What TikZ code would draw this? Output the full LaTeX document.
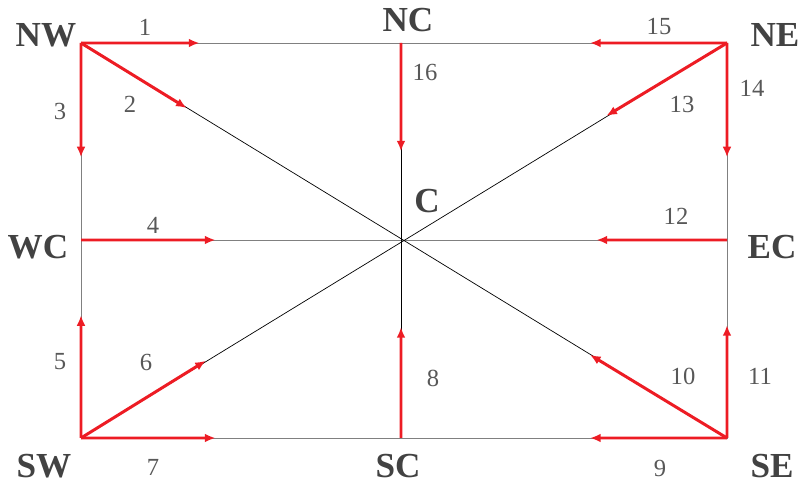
\documentclass[tikz,border=0pt]{standalone}
\usepackage{fontspec}
\setmainfont{Liberation Serif}
\usepackage{xcolor}
\usetikzlibrary{arrows.meta}
\usetikzlibrary{calc}
\definecolor{flowred}{RGB}{237,28,36}
\definecolor{labelgray}{RGB}{66,66,66}
\definecolor{numgray}{RGB}{88,88,88}

\begin{document}
\begin{tikzpicture}[x=0.02cm,y=-0.02cm,
  flow/.style={-{Latex[length=6pt,width=5pt]},line width=1.7pt,flowred},
  edge/.style={line width=0.5pt,gray},
  diag/.style={line width=0.4pt,black},
  place/.style={text=labelgray,font=\fontsize{20}{24}\selectfont\bfseries},
  num/.style={text=numgray,font=\fontsize{14}{16}\selectfont}]
\useasboundingbox (0,0) rectangle (799,486);

\coordinate (NW) at (81,43);
\coordinate (NC) at (401,43);
\coordinate (NE) at (727,43);
\coordinate (WC) at (81,240);
\coordinate (C) at (401,240);
\coordinate (EC) at (727,240);
\coordinate (SW) at (81,438);
\coordinate (SC) at (401,438);
\coordinate (SE) at (727,438);

%grid lines
\draw[edge] (NW) -- (NE) -- (SE) -- (SW) -- cycle;
\draw[edge] (WC) -- (EC);
\draw[diag] (NC) -- (SC);
\draw[diag] (NW) -- (SE);
\draw[diag] (NE) -- (SW);

%flows out of the corners and edges
\draw[flow] (NW) -- ($(NW)!0.37!(NC)$);
\draw[flow] (NW) -- ($(NW)!0.33!(C)$);
\draw[flow] (NW) -- ($(NW)!0.58!(WC)$);
\draw[flow] (WC) -- ($(WC)!0.42!(C)$);
\draw[flow] (SW) -- ($(SW)!0.62!(WC)$);
\draw[flow] (SW) -- ($(SW)!0.39!(C)$);
\draw[flow] (SW) -- ($(SW)!0.42!(SC)$);
\draw[flow] (SC) -- ($(SC)!0.56!(C)$);
\draw[flow] (SE) -- ($(SE)!0.42!(SC)$);
\draw[flow] (SE) -- ($(SE)!0.42!(C)$);
\draw[flow] (SE) -- ($(SE)!0.57!(EC)$);
\draw[flow] (EC) -- ($(EC)!0.40!(C)$);
\draw[flow] (NE) -- ($(NE)!0.37!(C)$);
\draw[flow] (NE) -- ($(NE)!0.58!(EC)$);
\draw[flow] (NE) -- ($(NE)!0.42!(NC)$);
\draw[flow] (NC) -- ($(NC)!0.55!(C)$);

%place names
\node[place] (lNW) at (46,35) {NW};
\node[place] (lNC) at (408,20) {NC};
\node[place] (lNE) at (775,35) {NE};
\node[place] (lWC) at (38,247) {WC};
\node[place] (lC) at (427,201) {C};
\node[place] (lEC) at (772,247) {EC};
\node[place] (lSW) at (44,466) {SW};
\node[place] (lSC) at (398,466) {SC};
\node[place] (lSE) at (772,466) {SE};

%flow numbers
\node[num] (n1) at (145,27) {1};
\node[num] (n2) at (130,104) {2};
\node[num] (n3) at (60,111) {3};
\node[num] (n4) at (153,225) {4};
\node[num] (n5) at (60,362) {5};
\node[num] (n6) at (146,362) {6};
\node[num] (n7) at (153,467) {7};
\node[num] (n8) at (433,378) {8};
\node[num] (n9) at (660,468) {9};
\node[num] (n10) at (683,376) {10};
\node[num] (n11) at (760,376) {11};
\node[num] (n12) at (676,216) {12};
\node[num] (n13) at (682,104) {13};
\node[num] (n14) at (752,88) {14};
\node[num] (n15) at (659,27) {15};
\node[num] (n16) at (425,72) {16};
\end{tikzpicture}
\end{document}
